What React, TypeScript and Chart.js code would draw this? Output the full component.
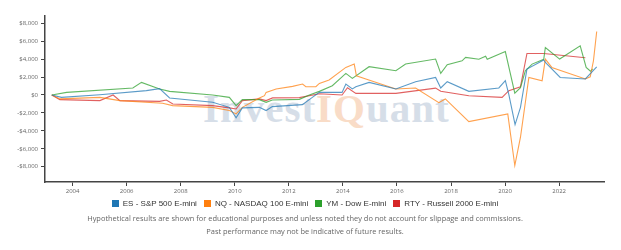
import React, { useEffect, useRef } from "react";
import { Chart, registerables } from "chart.js";

Chart.register(...registerables);

// ---- data (years as decimal dates, values in USD) ----
const esYears = [2003.23, 2003.59, 2005.01, 2006.73, 2007.22, 2007.59, 2009.18, 2009.8, 2010.05, 2010.28, 2010.91, 2011.16, 2011.39, 2012.5, 2012.87, 2013.13, 2013.97, 2014.11, 2014.35, 2014.48, 2014.97, 2015.96, 2016.69, 2017.43, 2017.62, 2017.86, 2018.66, 2019.77, 2020.01, 2020.14, 2020.37, 2020.57, 2020.81, 2021.43, 2021.5, 2022.04, 2022.97, 2023.39];
const esValues = [0, -270, 30, 480, 700, -330, -820, -1380, -2550, -1440, -1380, -1740, -1300, -1080, -270, 290, 290, 1220, 670, 920, 1400, 670, 1480, 1950, 780, 1480, 400, 780, 1590, 30, -3300, -1380, 2890, 3890, 3590, 1950, 1780, 3140];

const nqYears = [2003.23, 2003.53, 2005.01, 2005.75, 2007.33, 2007.7, 2009.18, 2009.8, 2010.05, 2010.28, 2010.91, 2011.1, 2011.16, 2011.53, 2012.14, 2012.51, 2012.63, 2013.0, 2013.13, 2013.49, 2014.11, 2014.42, 2014.5, 2014.85, 2015.96, 2016.69, 2017.55, 2017.79, 2018.66, 2020.1, 2020.36, 2020.57, 2020.88, 2021.37, 2021.49, 2021.73, 2022.97, 2023.15, 2023.27, 2023.39];
const nqValues = [0, -440, -270, -630, -930, -1190, -1380, -1740, -2110, -1380, -330, -80, 290, 670, 960, 1220, 920, 920, 1290, 1670, 3070, 3440, 2140, 1780, 670, 780, -860, -440, -2970, -2110, -7860, -4710, 1960, 1590, 4000, 3070, 1780, 2030, 3810, 7070];

const ymYears = [2003.23, 2003.78, 2006.23, 2006.55, 2007.22, 2007.59, 2009.18, 2009.8, 2010.05, 2010.28, 2010.91, 2011.16, 2011.39, 2012.39, 2012.76, 2013.13, 2013.61, 2014.11, 2014.35, 2014.97, 2015.96, 2016.32, 2017.43, 2017.62, 2017.86, 2018.41, 2018.54, 2019.03, 2019.28, 2019.34, 2020.01, 2020.36, 2020.57, 2020.75, 2021.0, 2021.43, 2021.49, 2022.02, 2022.78, 2023.0, 2023.16, 2023.24];
const ymValues = [0, 290, 780, 1400, 670, 400, 0, -270, -1190, -520, -520, -820, -560, -490, 0, 400, 1030, 2400, 1850, 3150, 2700, 3450, 4000, 2400, 3370, 3810, 4180, 3980, 4310, 3980, 4840, 200, 810, 2700, 3440, 3980, 5290, 4000, 5480, 3070, 2640, 2900];

const rtyYears = [2003.23, 2003.53, 2005.01, 2005.5, 2005.75, 2007.22, 2007.47, 2007.71, 2009.18, 2009.8, 2010.05, 2010.28, 2010.91, 2011.16, 2011.4, 2012.39, 2013.13, 2013.97, 2014.17, 2014.48, 2015.96, 2017.43, 2017.62, 2018.66, 2019.89, 2020.14, 2020.57, 2020.81, 2021.43, 2022.97];
const rtyValues = [0, -520, -630, 0, -630, -710, -560, -1000, -1190, -1440, -1560, -630, -440, -630, -330, -300, 140, 0, 800, 180, 180, 760, 420, -80, -270, 480, 920, 4620, 4620, 4140];

const seriesLabels = ["ES - S&P 500 E-mini", "NQ - NASDAQ 100 E-mini", "YM - Dow E-mini", "RTY - Russell 2000 E-mini"];
const seriesColors = ["#1f77b4", "#ff7f0e", "#2ca02c", "#d62728"];
const xTickYears = [2004, 2006, 2008, 2010, 2012, 2014, 2016, 2018, 2020, 2022];
const yTickValues = [-8000, -6000, -4000, -2000, 0, 2000, 4000, 6000, 8000];
const footerLines = [
  "Hypothetical results are shown for educational purposes and unless noted they do not account for slippage and commissions.",
  "Past performance may not be indicative of future results.",
];

function toPoints(xs: number[], ys: number[]) {
  return xs.map((x, i) => ({ x, y: ys[i] }));
}

function fmtMoney(v: number) {
  const s = "$" + Math.abs(v).toLocaleString("en-US");
  return v < 0 ? "-" + s : s;
}

export default function App() {
  const ref = useRef<HTMLCanvasElement>(null);

  useEffect(() => {
    const allX = [esYears, nqYears, ymYears, rtyYears];
    const allY = [esValues, nqValues, ymValues, rtyValues];
    const tickFont = { family: "'Open Sans'", size: 6 };
    const chart = new Chart(ref.current as HTMLCanvasElement, {
      type: "line",
      data: {
        datasets: seriesLabels.map((label, i) => ({
          label,
          data: toPoints(allX[i], allY[i]),
          borderColor: seriesColors[i] + "bb",
          backgroundColor: seriesColors[i],
          borderWidth: 1.1,
          pointRadius: 0,
          tension: 0,
          fill: false,
        })),
      },
      options: {
        animation: false,
        responsive: false,
        devicePixelRatio: 1,
        layout: { padding: { top: 16, left: 0, right: 17, bottom: 50 } },
        plugins: {
          legend: { display: false },
          tooltip: { enabled: false },
        },
        scales: {
          x: {
            type: "linear",
            min: 2002.98,
            max: 2023.66,
            afterBuildTicks: (axis: any) => {
              axis.ticks = xTickYears.map((v) => ({ value: v }));
            },
            afterFit: (s: any) => {
              s.height = 18;
            },
            ticks: {
              callback: (v: any) => String(v),
              color: "#666",
              font: tickFont,
              padding: 2,
              maxRotation: 0,
              autoSkip: false,
            },
            grid: { drawOnChartArea: false, drawTicks: true, tickLength: 4, color: "#444" },
            border: { color: "#444", width: 1.5 },
          },
          y: {
            type: "linear",
            min: -9700,
            max: 8800,
            afterBuildTicks: (axis: any) => {
              axis.ticks = yTickValues.map((v) => ({ value: v }));
            },
            afterFit: (s: any) => {
              s.width = 45;
            },
            ticks: {
              callback: (v: any) => fmtMoney(Number(v)),
              color: "#666",
              font: tickFont,
              padding: 3,
            },
            grid: { drawOnChartArea: false, drawTicks: true, tickLength: 4, color: "#444" },
            border: { color: "#444", width: 1.5 },
          },
        },
      },
    });
    return () => chart.destroy();
  }, []);

  return (
    <div style={{ position: "fixed", left: 0, top: 0, width: 621, height: 250, background: "#fff", overflow: "hidden" }}>
      <div
        style={{
          position: "absolute",
          left: 203,
          top: 88,
          fontFamily: "'Liberation Serif', serif",
          fontWeight: "bold",
          fontSize: 41,
          lineHeight: "41px",
          letterSpacing: "1px",
          whiteSpace: "nowrap",
          color: "#d6dee8",
        }}
      >
        Invest<span style={{ color: "#f9dcc7" }}>IQ</span>uant
      </div>
      <canvas ref={ref} width={621} height={250} style={{ position: "absolute", left: 0, top: 0 }} />
      <div
        style={{
          position: "absolute",
          left: 0,
          width: 610,
          top: 197,
          height: 12,
          display: "flex",
          justifyContent: "center",
          alignItems: "center",
          fontFamily: "'Liberation Sans', sans-serif",
          fontSize: 8,
          color: "#333",
          whiteSpace: "nowrap",
        }}
      >
        {seriesLabels.map((label, i) => (
          <span key={label} style={{ display: "inline-flex", alignItems: "center", marginRight: i < seriesLabels.length - 1 ? 7 : 0 }}>
            <span style={{ display: "inline-block", width: 7, height: 7, background: seriesColors[i], marginRight: 4 }} />
            {label}
          </span>
        ))}
      </div>
      <div
        style={{
          position: "absolute",
          left: 0,
          width: 610,
          top: 212,
          textAlign: "center",
          fontFamily: "'Open Sans', sans-serif",
          fontSize: 7.45,
          lineHeight: "13px",
          color: "#666",
        }}
      >
        {footerLines.map((t) => (
          <div key={t}>{t}</div>
        ))}
      </div>
    </div>
  );
}
